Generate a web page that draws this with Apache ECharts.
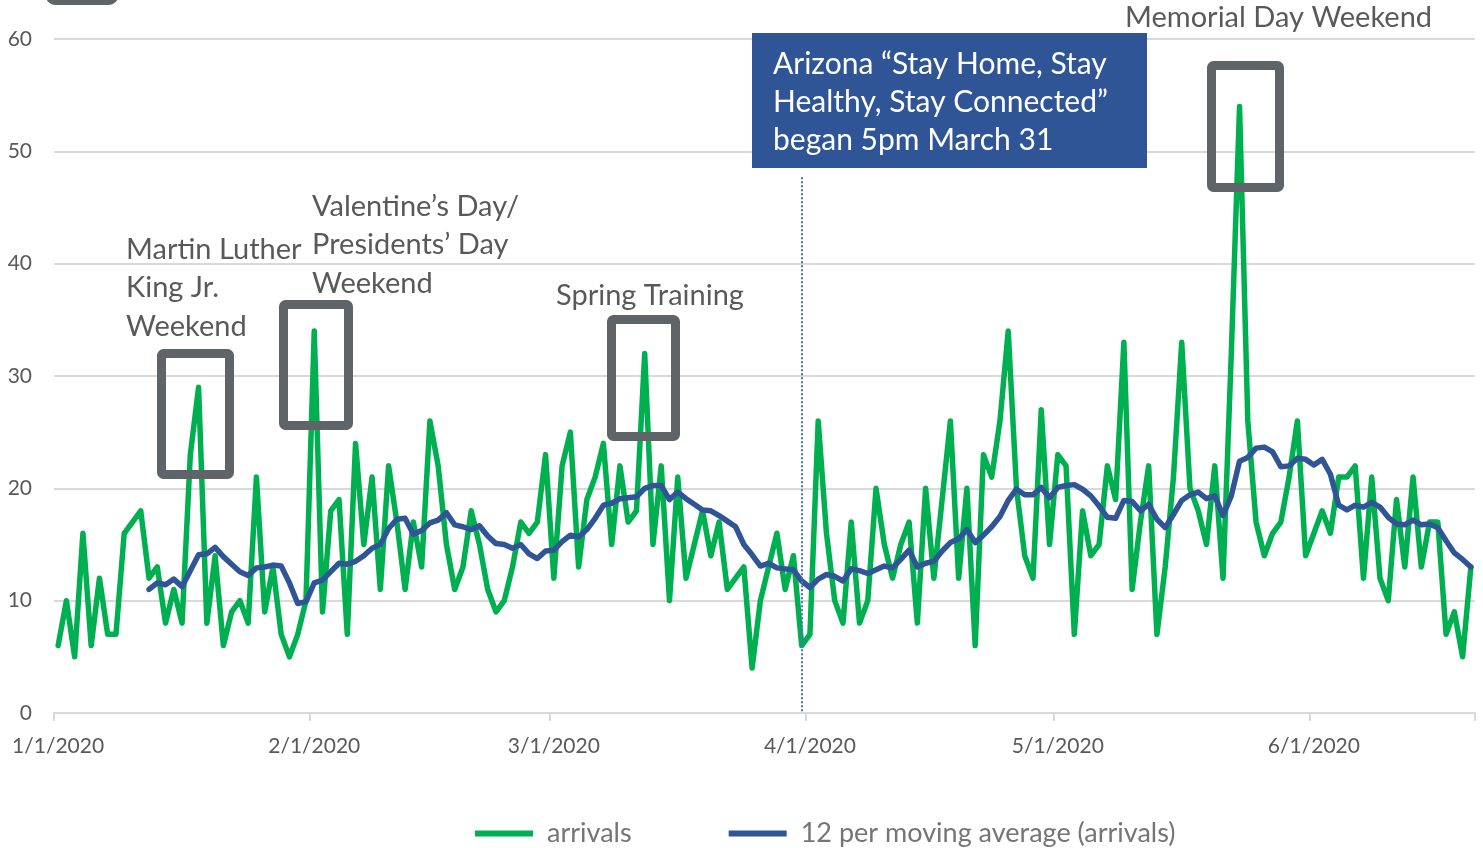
<!DOCTYPE html>
<html><head><meta charset="utf-8">
<script src="https://cdn.jsdelivr.net/npm/echarts@6/dist/echarts.min.js"></script>
<style>html,body{margin:0;padding:0;background:#fff}#c{width:1483px;height:848px}</style>
</head><body><div id="c"></div>
<script>
const categories = [
'1/1/2020','1/2/2020','1/3/2020','1/4/2020','1/5/2020','1/6/2020','1/7/2020','1/8/2020','1/9/2020','1/10/2020',
'1/11/2020','1/12/2020','1/13/2020','1/14/2020','1/15/2020','1/16/2020','1/17/2020','1/18/2020','1/19/2020','1/20/2020',
'1/21/2020','1/22/2020','1/23/2020','1/24/2020','1/25/2020','1/26/2020','1/27/2020','1/28/2020','1/29/2020','1/30/2020','1/31/2020',
'2/1/2020','2/2/2020','2/3/2020','2/4/2020','2/5/2020','2/6/2020','2/7/2020','2/8/2020','2/9/2020','2/10/2020',
'2/11/2020','2/12/2020','2/13/2020','2/14/2020','2/15/2020','2/16/2020','2/17/2020','2/18/2020','2/19/2020','2/20/2020',
'2/21/2020','2/22/2020','2/23/2020','2/24/2020','2/25/2020','2/26/2020','2/27/2020','2/28/2020','2/29/2020',
'3/1/2020','3/2/2020','3/3/2020','3/4/2020','3/5/2020','3/6/2020','3/7/2020','3/8/2020','3/9/2020','3/10/2020',
'3/11/2020','3/12/2020','3/13/2020','3/14/2020','3/15/2020','3/16/2020','3/17/2020','3/18/2020','3/19/2020','3/20/2020',
'3/21/2020','3/22/2020','3/23/2020','3/24/2020','3/25/2020','3/26/2020','3/27/2020','3/28/2020','3/29/2020','3/30/2020','3/31/2020',
'4/1/2020','4/2/2020','4/3/2020','4/4/2020','4/5/2020','4/6/2020','4/7/2020','4/8/2020','4/9/2020','4/10/2020',
'4/11/2020','4/12/2020','4/13/2020','4/14/2020','4/15/2020','4/16/2020','4/17/2020','4/18/2020','4/19/2020','4/20/2020',
'4/21/2020','4/22/2020','4/23/2020','4/24/2020','4/25/2020','4/26/2020','4/27/2020','4/28/2020','4/29/2020','4/30/2020',
'5/1/2020','5/2/2020','5/3/2020','5/4/2020','5/5/2020','5/6/2020','5/7/2020','5/8/2020','5/9/2020','5/10/2020',
'5/11/2020','5/12/2020','5/13/2020','5/14/2020','5/15/2020','5/16/2020','5/17/2020','5/18/2020','5/19/2020','5/20/2020',
'5/21/2020','5/22/2020','5/23/2020','5/24/2020','5/25/2020','5/26/2020','5/27/2020','5/28/2020','5/29/2020','5/30/2020','5/31/2020',
'6/1/2020','6/2/2020','6/3/2020','6/4/2020','6/5/2020','6/6/2020','6/7/2020','6/8/2020','6/9/2020','6/10/2020',
'6/11/2020','6/12/2020','6/13/2020','6/14/2020','6/15/2020','6/16/2020','6/17/2020','6/18/2020','6/19/2020','6/20/2020'
];

const arrivals = [
6,10,5,16,6,12,7,7,16,17,18,12,13,8,11,8,23,29,8,14,6,9,10,8,21,9,13,7,5,7,10,
34,9,18,19,7,24,15,21,11,22,17,11,17,13,26,22,15,11,13,18,15,11,9,10,13,17,16,17,23,
12,22,25,13,19,21,24,15,22,17,18,32,15,22,10,21,12,15,18,14,17,11,12,13,4,10,13,16,11,14,6,
7,26,16,10,8,17,8,10,20,15,12,15,17,8,20,12,19,26,12,20,6,23,21,26,34,20,14,12,27,15,
23,22,7,18,14,15,22,19,33,11,17,22,7,13,21,33,20,18,15,22,12,32,54,26,17,14,16,17,21,26,14,
16,18,16,21,21,22,12,21,12,10,19,13,21,13,17,17,7,9,5,13
];

// 12-period moving average, first value on 1/12/2020
const maStartDate = '1/12/2020';
const movingAverage12 = [
11.00,11.58,11.42,11.92,11.25,12.67,14.08,14.17,14.75,13.92,
13.25,12.58,12.25,12.92,13.00,13.17,13.08,11.58,9.75,9.92,
11.58,11.83,12.58,13.33,13.25,13.50,14.00,14.67,15.00,16.42,
17.25,17.33,15.92,16.25,16.92,17.17,17.83,16.75,16.58,16.33,
16.67,15.75,15.08,15.00,14.67,15.00,14.17,13.75,14.42,14.50,
15.25,15.83,15.67,16.33,17.33,18.50,18.67,19.08,19.17,19.25,
20.00,20.25,20.25,19.00,19.67,19.08,18.58,18.08,18.00,17.58,
17.08,16.58,15.00,14.08,13.08,13.33,12.92,12.83,12.75,11.75,
11.17,11.92,12.33,12.17,11.75,12.83,12.67,12.42,12.75,13.08,
12.92,13.67,14.50,13.00,13.33,13.50,14.42,15.17,15.50,16.33,
15.17,15.83,16.58,17.50,18.92,19.92,19.42,19.42,20.08,19.17,
20.08,20.25,20.33,19.92,19.33,18.42,17.42,17.33,18.92,18.83,
18.00,18.58,17.25,16.50,17.67,18.92,19.42,19.67,19.08,19.33,
17.58,19.33,22.42,22.75,23.58,23.67,23.25,21.92,22.00,22.67,
22.58,22.08,22.58,21.25,18.50,18.08,18.50,18.33,18.75,18.33,
17.42,16.83,16.75,17.17,16.75,16.83,16.50,15.33,14.25,13.67,13.00
];

const tickLabels = ['1/1/2020','2/1/2020','3/1/2020','4/1/2020','5/1/2020','6/1/2020'];
const seriesNames = ['arrivals', '12 per moving average (arrivals)'];
const orderDate = '3/31/2020';
const orderLineTop = 47.7;

const FONT = 'Lato';
const GREEN = '#00b050', BLUE = '#2f5597', GRAY = '#595959', BOX = '#5f6468';

const maOffset = categories.indexOf(maStartDate);
const maData = categories.map((c, i) => i < maOffset ? '-' : movingAverage12[i - maOffset]);
const isMonthStart = (idx, val) => tickLabels.indexOf(val) >= 0;

const chart = echarts.init(document.getElementById('c'), null, {renderer: 'canvas'});

function boxRect(x, y, w, h, lw) {
  return {type: 'rect', z: 5, shape: {x: x, y: y, width: w, height: h, r: 2},
    style: {fill: 'none', stroke: BOX, lineWidth: lw}};
}
function txt(x, y, text, size, color, lh) {
  return {type: 'text', z: 20, x: x, y: y,
    style: {text: text, fill: color, font: size + 'px ' + FONT, lineHeight: lh || size,
      textVerticalAlign: 'top', verticalAlign: 'top', textAlign: 'left', align: 'left'}};
}

chart.setOption({
  animation: false,
  backgroundColor: '#ffffff',
  textStyle: {fontFamily: FONT},
  grid: {left: 54, right: 8, top: 39, bottom: 135, containLabel: false},
  legend: {
    left: 470, top: 815, itemWidth: 58, itemHeight: 6, itemGap: 97, icon: 'rect',
    textStyle: {fontFamily: FONT, fontSize: 27, color: '#757575', padding: [0, 0, 0, 9]},
    data: seriesNames
  },
  xAxis: {
    type: 'category', data: categories, boundaryGap: true,
    axisLine: {show: true, lineStyle: {color: '#d9d9d9', width: 2}},
    axisTick: {show: true, interval: isMonthStart, length: 8, lineStyle: {color: '#d9d9d9', width: 2}},
    axisLabel: {interval: isMonthStart, fontFamily: FONT, fontSize: 21, color: GRAY, margin: 23},
    splitLine: {show: false}
  },
  yAxis: {
    type: 'value', min: 0, max: 60, interval: 10,
    axisLine: {show: false}, axisTick: {show: false},
    axisLabel: {fontFamily: FONT, fontSize: 21, color: GRAY, margin: 22},
    splitLine: {lineStyle: {color: '#d9d9d9', width: 2}}
  },
  series: [
    {
      name: seriesNames[0], type: 'line', data: arrivals, showSymbol: false, symbol: 'none',
      z: 3,
      lineStyle: {color: GREEN, width: 5.5, join: 'round', cap: 'round'},
      itemStyle: {color: GREEN},
      markLine: {
        silent: true, symbol: ['none', 'none'], label: {show: false},
        lineStyle: {color: '#4472c4', width: 2, type: 'dotted'},
        data: [[{coord: [orderDate, orderLineTop]}, {coord: [orderDate, 0]}]]
      }
    },
    {
      name: seriesNames[1], type: 'line', data: maData, showSymbol: false, symbol: 'none',
      z: 4,
      lineStyle: {color: BLUE, width: 5.5, join: 'round', cap: 'round'},
      itemStyle: {color: BLUE}
    }
  ],
  graphic: [
    {type: 'rect', z: 5, shape: {x: 49, y: -40, width: 66, height: 42, r: 6},
      style: {fill: 'none', stroke: BOX, lineWidth: 6}},
    boxRect(161.5, 353.5, 68, 121, 9),
    boxRect(283.5, 304.5, 65, 121, 9),
    boxRect(611.5, 319.5, 64, 117, 9),
    boxRect(1211.5, 65.5, 68, 122, 9),
    {type: 'rect', z: 15, shape: {x: 752, y: 33, width: 395, height: 135}, style: {fill: BLUE}},
    txt(126, 230, 'Martin Luther\nKing Jr.\nWeekend', 29, GRAY, 38.5),
    txt(312, 187, 'Valentine\u2019s Day/\nPresidents\u2019 Day\nWeekend', 29, GRAY, 38.5),
    txt(556, 279, 'Spring Training', 29, GRAY, 33),
    txt(1125, 1, 'Memorial Day Weekend', 29, GRAY, 33),
    txt(773, 45, 'Arizona \u201cStay Home, Stay\nHealthy, Stay Connected\u201d\nbegan 5pm March 31', 30, '#ffffff', 38.3)
  ]
});
</script></body></html>
